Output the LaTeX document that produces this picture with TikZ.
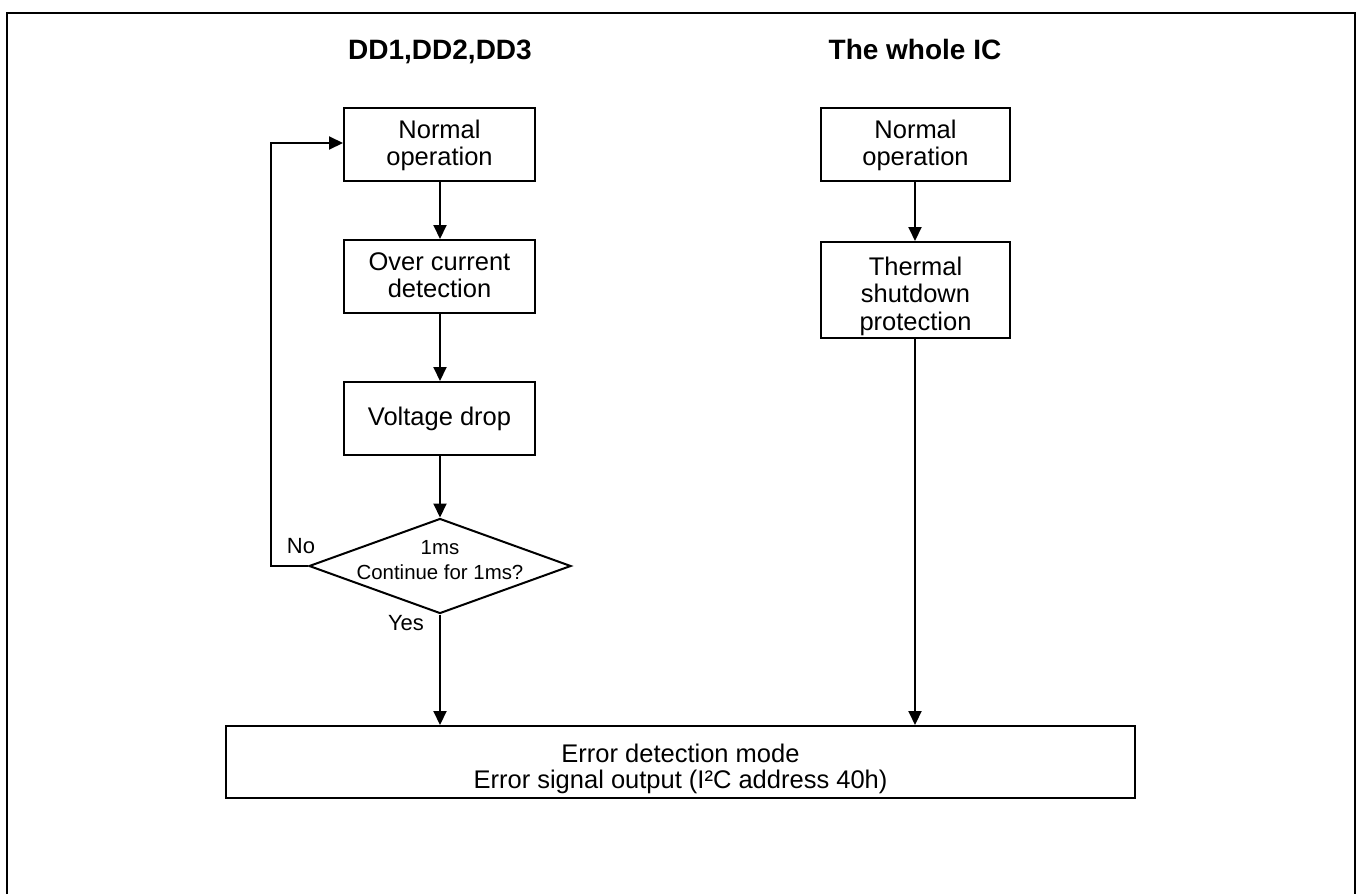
\documentclass[tikz,border=0pt]{standalone}
\usepackage{fontspec}
\setmainfont{Liberation Sans}
\usetikzlibrary{shapes.geometric,arrows.meta}
\newcommand{\mydown}[2]{\raisebox{-#1}[\height][\depth]{\begin{tabular}{@{}c@{}}#2\end{tabular}}}
\begin{document}
\begin{tikzpicture}[x=1pt,y=-1pt,
  body/.style={font=\fontsize{25.5}{27.5}\selectfont},
  flowbox/.style={draw, line width=2pt, rectangle, inner sep=0pt, align=center, body},
  title/.style={font=\fontsize{28}{32}\selectfont\bfseries, anchor=base},
  conn/.style={line width=2pt, -{Triangle[length=14pt,width=13pt]}},
  lbl/.style={font=\fontsize{22}{26}\selectfont, inner sep=0pt}]
\useasboundingbox (0,0) rectangle (1356,894);
\draw[line width=2.2pt] (7,894) -- (7,13) -- (1355,13) -- (1355,894);

\node[title] (t1) at (440,59) {DD1,DD2,DD3};
\node[title] (t2) at (915,59) {The whole IC};

\node[flowbox, minimum width=191pt, minimum height=73pt] (n1) at (439.5,144.5) {\mydown{2pt}{Normal\\operation}};
\node[flowbox, minimum width=191pt, minimum height=73pt] (n2) at (439.5,276.5) {\mydown{2pt}{Over current\\detection}};
\node[flowbox, minimum width=191pt, minimum height=73pt] (n3) at (439.5,418.5) {Voltage drop};
\node[diamond, draw, line width=2pt, minimum width=262pt, minimum height=95pt, inner sep=0pt] (d) at (440,566) {};
\node[align=center, font=\fontsize{20.4}{25}\selectfont, inner sep=0pt] (dt) at (440,560) {1ms\\Continue for 1ms?};

\node[flowbox, minimum width=189pt, minimum height=73pt] (r1) at (915.5,144.5) {\mydown{2pt}{Normal\\operation}};
\node[flowbox, minimum width=189pt, minimum height=96pt] (r2) at (915.5,290) {\mydown{7pt}{Thermal\\shutdown\\protection}};

\node[flowbox, minimum width=909pt, minimum height=72pt, font=\fontsize{25.5}{26.5}\selectfont] (m) at (680.5,762) {\mydown{8pt}{Error detection mode\\Error signal output (I²C address 40h)}};

\coordinate (lc1) at (271,566);
\coordinate (lc2) at (271,143);
\draw[conn] (n1.south -| 440,0) -- (n2.north -| 440,0);
\draw[conn] (n2.south -| 440,0) -- (n3.north -| 440,0);
\draw[conn] (n3.south -| 440,0) -- (d.north);
\draw[conn] (d.west) -- (lc1) -- (lc2) -- (lc2 -| n1.west);
\draw[conn] (d.south) -- (d.south |- m.north);
\draw[conn] (r1.south -| 915,0) -- (r2.north -| 915,0);
\draw[conn] (r2.south -| 915,0) -- (m.north -| 915,0);

\node[lbl] (no) at (301,546) {No};
\node[lbl] (yes) at (406,623) {Yes};
\end{tikzpicture}
\end{document}
